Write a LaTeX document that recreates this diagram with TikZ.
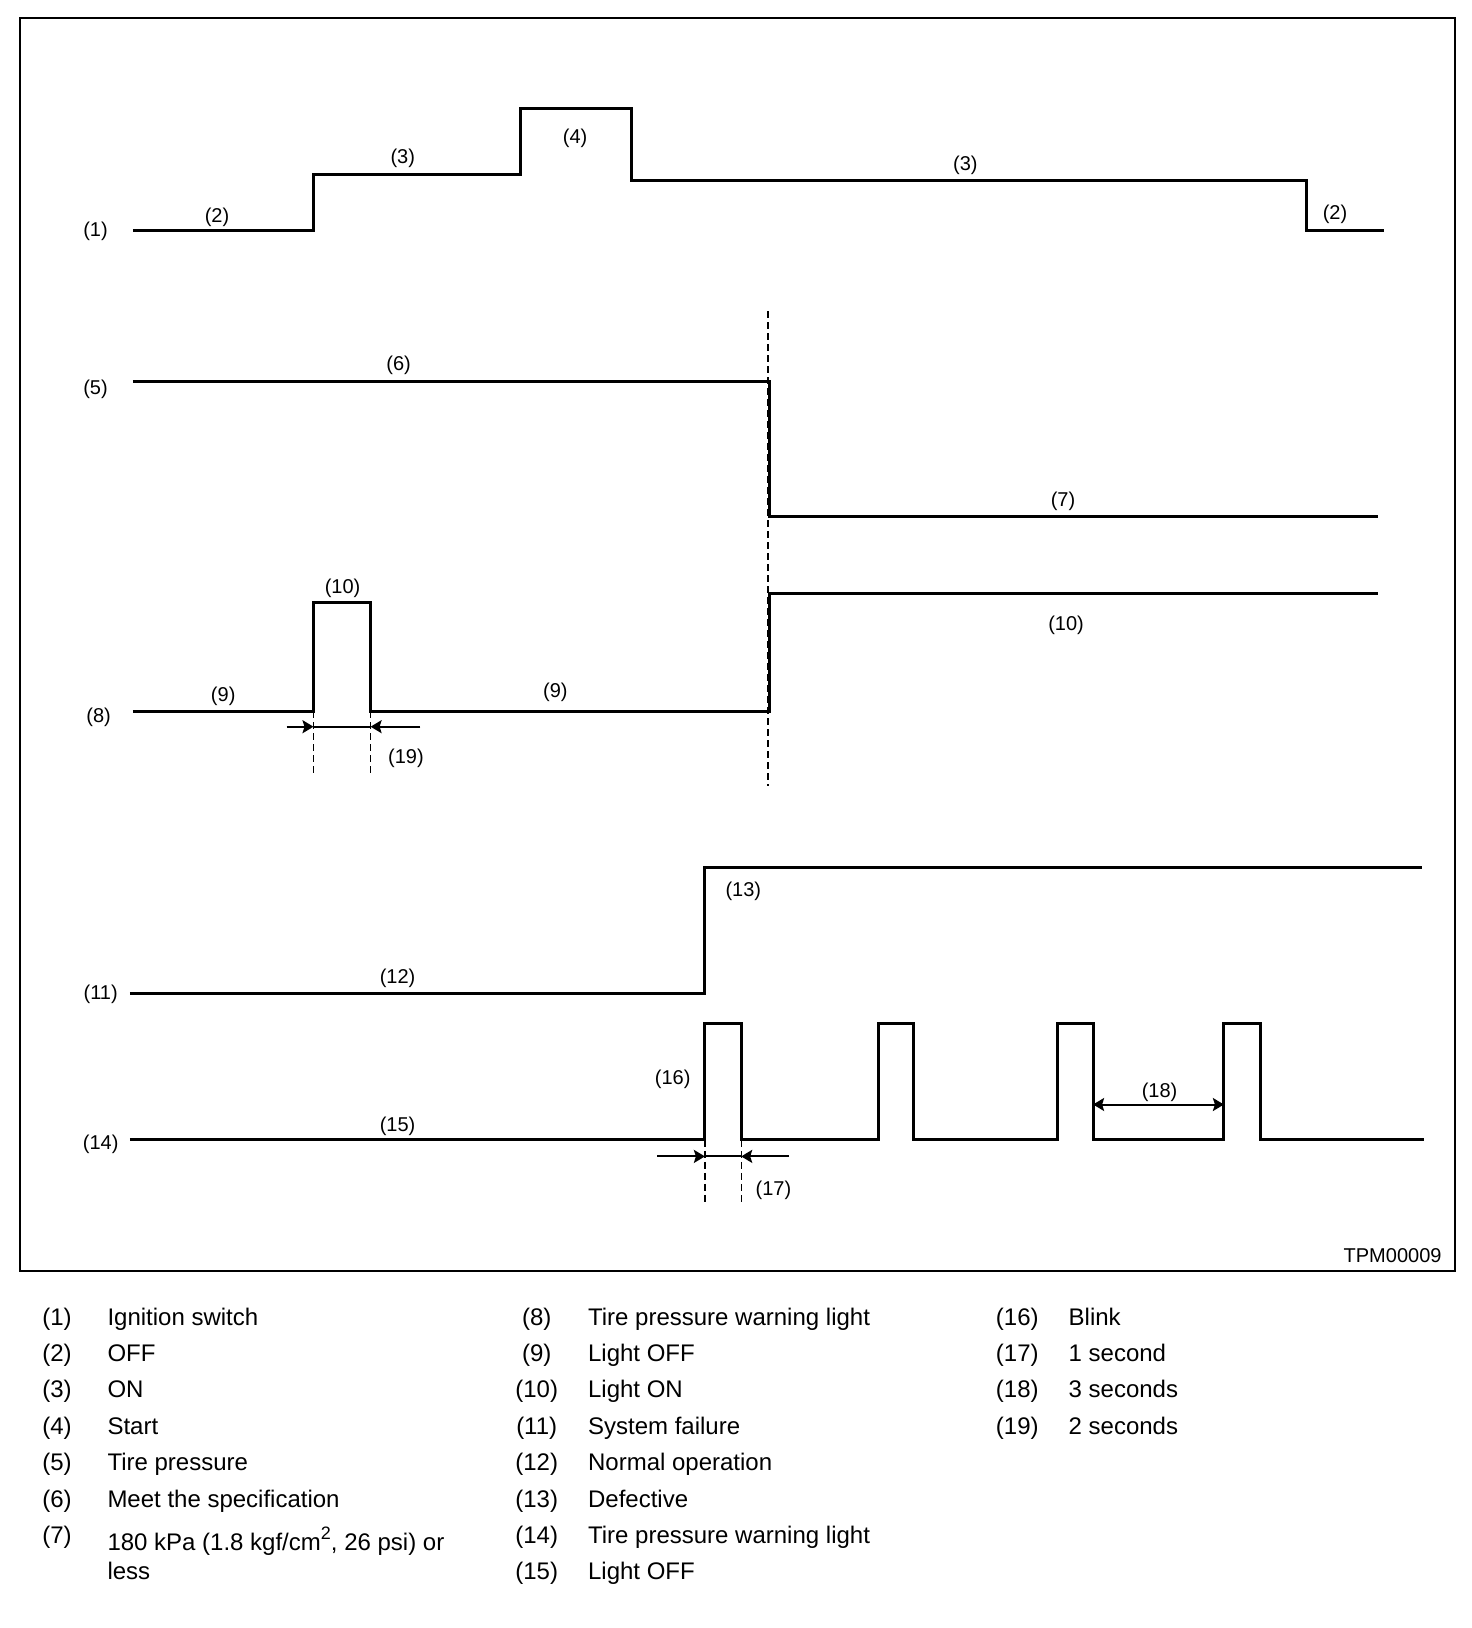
\documentclass[tikz,border=0pt]{standalone}
\usepackage{fontspec}
\setmainfont{Liberation Sans}
\usetikzlibrary{arrows.meta}

\begin{document}
\begin{tikzpicture}[x=0.5pt,y=-0.5pt,>={Stealth[length=5.5pt,width=6.5pt,inset=1pt]},every node/.style={font=\fontsize{10}{12}\selectfont,inner sep=0pt},line width=1.5pt,
  dimline/.style={line width=1pt},
  guide/.style={line width=.6pt,dash pattern=on 3.5pt off 2pt},
  legnum/.style={anchor=base,font=\fontsize{12}{14}\selectfont},
  legtext/.style={anchor=base west,font=\fontsize{12}{14}\selectfont}]
\useasboundingbox (0,0) rectangle (1472,1628);
\draw[line width=1pt] (19.7,17.6) rectangle (1455.4,1270.6);
\draw (132.9,230.5)--(313.5,230.5)--(313.5,174.4)--(520,174.4)--(520,108)--(631.2,108)--(631.2,180.6)--(1306,180.6)--(1306,230.5)--(1383.8,230.5);
\node (w1) at (95.5,231.4) {(1)};
\node (w2a) at (217,216.9) {(2)};
\node (w3a) at (402.8,158.8) {(3)};
\node (w4) at (575.1,138) {(4)};
\node (w3b) at (965.4,165) {(3)};
\node (w2b) at (1335,214.8) {(2)};
\draw (132.9,381)--(769.2,381)--(769.2,516)--(1377.6,516);
\node (w5) at (95.5,389.2) {(5)};
\node (w6) at (398.6,365.3) {(6)};
\node (w7) at (1063,501.3) {(7)};
\draw[guide] (768,311.4)--(768,785.8);
\draw (132.9,711.1)--(313.5,711.1)--(313.5,602.1)--(370.6,602.1)--(370.6,711.1)--(769.2,711.1)--(769.2,593.8)--(1377.6,593.8);
\node (w8) at (98.6,717.2) {(8)};
\node (w9a) at (223.2,696.5) {(9)};
\node (w10a) at (342.6,588.5) {(10)};
\node (w9b) at (555.4,692.3) {(9)};
\node (w10b) at (1066.1,624.9) {(10)};
\draw[guide] (313.5,711.1)--(313.5,773.4);
\draw[guide] (370.6,711.1)--(370.6,773.4);
\coordinate (d19a) at (286.5,726.7);
\coordinate (d19b) at (313.5,726.7);
\coordinate (d19c) at (370.6,726.7);
\coordinate (d19d) at (420.4,726.7);
\draw[dimline,->] (d19a)--(d19b);
\draw[dimline] (d19b)--(d19c);
\draw[dimline,->] (d19d)--(d19c);
\node (w19) at (405.9,758.8) {(19)};
\draw (129.8,993.5)--(704.9,993.5)--(704.9,867.9)--(1422.2,867.9);
\node (w11) at (100.7,994.4) {(11)};
\node (w12) at (397.6,978.8) {(12)};
\node (w13) at (743.3,891.6) {(13)};
\draw (129.8,1139.8)--(704.9,1139.8)--(704.9,1023.6)--(741.2,1023.6)--(741.2,1139.8)--(878.2,1139.8)--(878.2,1023.6)--(913.5,1023.6)--(913.5,1139.8)--(1057.8,1139.8)--(1057.8,1023.6)--(1093.1,1023.6)--(1093.1,1139.8)--(1223.9,1139.8)--(1223.9,1023.6)--(1260.3,1023.6)--(1260.3,1139.8)--(1424.3,1139.8);
\node (w14) at (100.7,1143.9) {(14)};
\node (w15) at (397.6,1126.3) {(15)};
\node (w16) at (672.7,1079.5) {(16)};
\draw[guide] (704.9,1139.8)--(704.9,1204.2);
\draw[guide] (741.2,1139.8)--(741.2,1204.2);
\coordinate (d17a) at (657.1,1156.4);
\coordinate (d17b) at (704.9,1156.4);
\coordinate (d17c) at (741.2,1156.4);
\coordinate (d17d) at (789,1156.4);
\draw[dimline,->] (d17a)--(d17b);
\draw[dimline] (d17b)--(d17c);
\draw[dimline,->] (d17d)--(d17c);
\node (w17) at (773.4,1190.6) {(17)};
\coordinate (d18a) at (1093.1,1104.5);
\coordinate (d18b) at (1223.9,1104.5);
\draw[dimline,<->] (d18a)--(d18b);
\node (w18) at (1159.6,1092) {(18)};
\node[anchor=east] (code) at (1443,1256) {TPM00009};
\node[legnum] (k1) at (57,1325) {(1)};
\node[legtext] (t1) at (106,1325) {Ignition switch};
\node[legnum] (k2) at (57,1361.4) {(2)};
\node[legtext] (t2) at (106,1361.4) {OFF};
\node[legnum] (k3) at (57,1397.8) {(3)};
\node[legtext] (t3) at (106,1397.8) {ON};
\node[legnum] (k4) at (57,1434.2) {(4)};
\node[legtext] (t4) at (106,1434.2) {Start};
\node[legnum] (k5) at (57,1470.6) {(5)};
\node[legtext] (t5) at (106,1470.6) {Tire pressure};
\node[legnum] (k6) at (57,1507) {(6)};
\node[legtext] (t6) at (106,1507) {Meet the specification};
\node[legnum] (k7) at (57,1543.4) {(7)};
\node[legtext] (t7) at (106,1550) {180 kPa (1.8 kgf/cm\raisebox{.42em}{\fontsize{9}{9}\selectfont 2}, 26 psi) or};
\node[legtext] (t7b) at (106,1579.8) {less};
\node[legnum] (k8) at (536.7,1325) {(8)};
\node[legtext] (t8) at (586.6,1325) {Tire pressure warning light};
\node[legnum] (k9) at (536.7,1361.4) {(9)};
\node[legtext] (t9) at (586.6,1361.4) {Light OFF};
\node[legnum] (k10) at (536.7,1397.8) {(10)};
\node[legtext] (t10) at (586.6,1397.8) {Light ON};
\node[legnum] (k11) at (536.7,1434.2) {(11)};
\node[legtext] (t11) at (586.6,1434.2) {System failure};
\node[legnum] (k12) at (536.7,1470.6) {(12)};
\node[legtext] (t12) at (586.6,1470.6) {Normal operation};
\node[legnum] (k13) at (536.7,1507) {(13)};
\node[legtext] (t13) at (586.6,1507) {Defective};
\node[legnum] (k14) at (536.7,1543.4) {(14)};
\node[legtext] (t14) at (586.6,1543.4) {Tire pressure warning light};
\node[legnum] (k15) at (536.7,1579.8) {(15)};
\node[legtext] (t15) at (586.6,1579.8) {Light OFF};
\node[legnum] (k16) at (1017.3,1325) {(16)};
\node[legtext] (t16) at (1067.2,1325) {Blink};
\node[legnum] (k17) at (1017.3,1361.4) {(17)};
\node[legtext] (t17) at (1067.2,1361.4) {1 second};
\node[legnum] (k18) at (1017.3,1397.8) {(18)};
\node[legtext] (t18) at (1067.2,1397.8) {3 seconds};
\node[legnum] (k19) at (1017.3,1434.2) {(19)};
\node[legtext] (t19) at (1067.2,1434.2) {2 seconds};
\end{tikzpicture}
\end{document}
